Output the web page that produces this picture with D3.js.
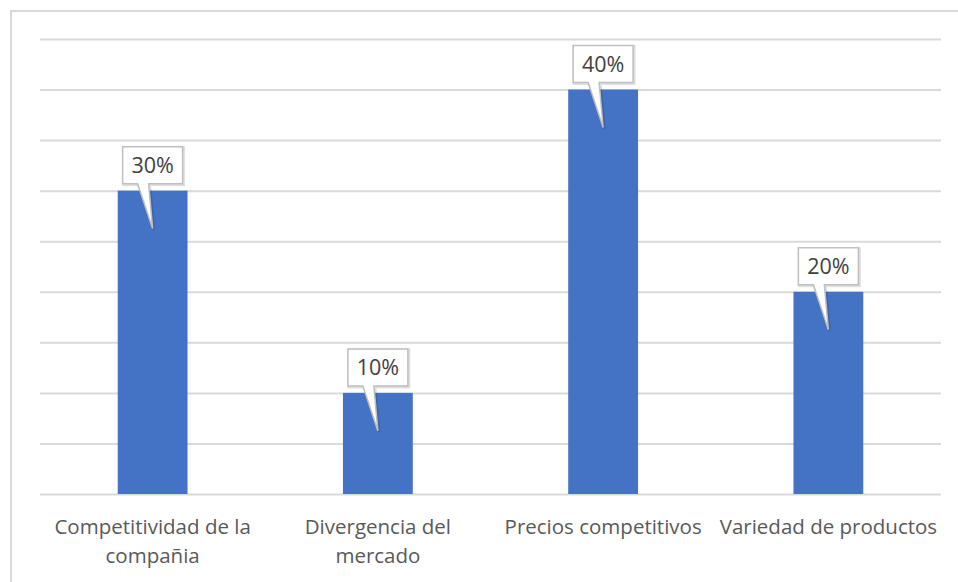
<!DOCTYPE html>
<html>
<head>
<meta charset="utf-8">
<script src="https://cdn.jsdelivr.net/npm/d3@7"></script>
<style>
  body { margin: 0; background: #fff; }
  text { font-family: "Open Sans", sans-serif; }
</style>
</head>
<body>
<script>
// data
var categories = ["Competitividad de la\ncompañia", "Divergencia del\nmercado", "Precios competitivos", "Variedad de productos"];
var values = [30, 10, 40, 20];
var tickValues = [0, 5, 10, 15, 20, 25, 30, 35, 40, 45];

var width = 958, height = 582;

var svg = d3.select("body").append("svg")
    .attr("width", width)
    .attr("height", height);

// chart frame (only top and left visible in the crop)
svg.append("path")
    .attr("d", "M11,582 V11 H958")
    .attr("fill", "none")
    .attr("stroke", "#d9d9d9")
    .attr("stroke-width", 2);

var x = d3.scaleBand()
    .domain(categories)
    .range([40, 941])
    .paddingInner(0.69)
    .paddingOuter(0.345);

var y = d3.scaleLinear()
    .domain([0, 45])
    .range([494, 39]);

// gridlines
var yAxis = d3.axisLeft(y)
    .tickValues(tickValues)
    .tickSize(-(941 - 40))
    .tickFormat("");

svg.append("g")
    .attr("transform", "translate(40,0)")
    .call(yAxis)
    .call(function(g) {
      g.select(".domain").remove();
      g.selectAll(".tick line").attr("stroke", "#d9d9d9").attr("stroke-width", 2);
    });

// bars
svg.selectAll("rect.bar")
    .data(values)
    .enter()
    .append("rect")
    .attr("class", "bar")
    .attr("x", function(d, i) { return x(categories[i]); })
    .attr("width", x.bandwidth())
    .attr("y", function(d) { return y(d); })
    .attr("height", function(d) { return y(0) - y(d); })
    .attr("fill", "#4472c4");

// category labels
var xAxis = d3.axisBottom(x).tickSize(0).tickFormat("");
var xg = svg.append("g")
    .attr("transform", "translate(0," + y(0) + ")")
    .call(xAxis);
xg.select(".domain").remove();
xg.selectAll(".tick").each(function(d) {
  var lines = d.split("\n");
  var t = d3.select(this).append("text")
      .attr("fill", "#595959")
      .attr("font-size", 20.5)
      .attr("text-anchor", "middle");
  lines.forEach(function(l, k) {
    t.append("tspan").attr("x", 0).attr("y", 40 + k * 29).text(l);
  });
});

// callout data labels
var callouts = svg.selectAll("g.callout")
    .data(values)
    .enter()
    .append("g")
    .attr("class", "callout")
    .attr("transform", function(d, i) {
      return "translate(" + (x(categories[i]) + x.bandwidth() / 2) + "," + y(d) + ")";
    });

function calloutPath() {
  // box 60x37, bottom 7px above bar top, pointer down to 38px below bar top
  return "M-30,-44 H30 V-7 H-4 L0,38 L-15,-7 H-30 Z";
}

callouts.append("path")
    .attr("d", calloutPath())
    .attr("fill", "none")
    .attr("stroke", "#000")
    .attr("stroke-opacity", 0.12)
    .attr("stroke-width", 3)
    .attr("transform", "translate(1,1)");

callouts.append("path")
    .attr("d", calloutPath())
    .attr("fill", "#fff")
    .attr("stroke", "#bfbfbf")
    .attr("stroke-width", 1.5);

callouts.append("text")
    .attr("text-anchor", "middle")
    .attr("y", -18)
    .attr("fill", "#404040")
    .attr("font-size", 21.5)
    .text(function(d) { return d + "%"; });
</script>
</body>
</html>
